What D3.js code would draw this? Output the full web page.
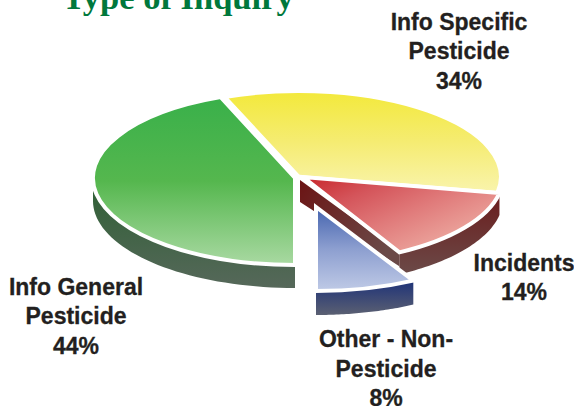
<!DOCTYPE html>
<html><head><meta charset="utf-8"><style>html,body{margin:0;padding:0;background:#fff;overflow:hidden}svg{display:block}</style>
<script src="https://cdn.jsdelivr.net/npm/d3@7"></script></head><body><script>
const categories = ["Info General","Info Specific","Incidents","Other - Non-Pesticide"];
const values = [44,34,14,8];
const titleText = "Type of Inquiry";
const labelLines = [["Info General","Pesticide","44%"],["Info Specific","Pesticide","34%"],["Incidents","14%"],["Other - Non-","Pesticide","8%"]];

const W=574,H=406;
// layout per slice
const apex=[[295,178],[299,177],[303,177],[316,207]];
const radX=[202,202,200,202], radY=[87,86,86,84];
const depth=[23,0,22,24];
const labelPos=[[76,294.5],[459,29.5],[524,270.5],[386,347]];
const topCols=[["#39b04a","#55b74e","#a9d9a2"],["#f3e93a","#f5ec72","#f9f4ad"],null,["#4463ae","#8d9fd0","#bfcae6"]];
const wallCols=[["#2d5f33","#56685a"],null,["#6b1c1c","#6b4a48"],["#1e3278","#5b6072"]];

const svg=d3.select("body").append("svg").attr("width",W).attr("height",H);
const defs=svg.append("defs");
const pie=d3.pie().sort(null).startAngle(Math.PI).endAngle(3*Math.PI);
const arcs=pie(values);

function grad(id,cols,x2,y2){
  const g=defs.append("linearGradient").attr("id",id).attr("x1",0).attr("y1",0).attr("x2",x2).attr("y2",y2);
  cols.forEach((c,i)=>g.append("stop").attr("offset",i/(cols.length-1)).attr("stop-color",c));
}
topCols.forEach((c,i)=>{ if(c) grad("top"+i,c,0,1); });
grad("top2",["#c8262a","#d4545a","#e07a7a","#ea9f98"],0.8,0.7);
wallCols.forEach((c,i)=>{ if(c) grad("wall"+i,c,0,1); });
grad("cut2",["#6b1414","#6b4a48"],1,0.6);

const TAU=2*Math.PI;
const pt=(i,a,d=0)=>[apex[i][0]+radX[i]*Math.sin(a),apex[i][1]-radY[i]*Math.cos(a)+d];
const line=d3.line();
function wallPath(i){
  // bring the angle span into the 0..2pi turn, then keep the front-facing half
  const shift=arcs[i].startAngle>=TAU?TAU:0;
  const a0=Math.max(arcs[i].startAngle-shift,Math.PI/2), a1=Math.min(arcs[i].endAngle-shift,1.5*Math.PI);
  const as=d3.range(0,41).map(k=>a0+(a1-a0)*k/40);
  const top=as.map(a=>pt(i,a)), bottom=as.map(a=>pt(i,a,depth[i])).reverse();
  return line(top.concat(bottom))+"Z";
}
const arc=d3.arc().innerRadius(0).outerRadius(1);
const order=[0,1,2,3];
// walls
order.forEach(i=>{
  if(!depth[i]) return;
  if(i===2){
    const t=pt(2,arcs[2].endAngle);
    svg.append("path").attr("d",line([[apex[2][0]-3,apex[2][1]+3],t,[t[0],t[1]+depth[2]-8],[apex[2][0]-3,apex[2][1]+depth[2]+3]])+"Z")
      .attr("fill","url(#cut2)");
  }
  svg.append("path").attr("d",wallPath(i)).attr("fill",`url(#wall${i})`);
});
// tops
order.forEach(i=>{
  svg.append("path").datum(arcs[i]).attr("d",arc)
    .attr("transform",`translate(${apex[i][0]},${apex[i][1]}) scale(${radX[i]},${radY[i]})`)
    .attr("fill",`url(#top${i})`).attr("stroke","#fff").attr("stroke-width",4)
    .attr("vector-effect","non-scaling-stroke").attr("stroke-linejoin","miter");
});
// title
svg.append("text").attr("x",178).attr("y",9).attr("text-anchor","middle")
  .attr("font-family","'Liberation Serif',serif").attr("font-weight","bold").attr("font-size",34.5)
  .attr("fill","#00783c").text(titleText);
// labels
labelLines.forEach((ls,i)=>{
  ls.forEach((s,k)=>svg.append("text").attr("x",labelPos[i][0]).attr("y",labelPos[i][1]+k*29.5)
    .attr("text-anchor","middle").attr("font-family","'Liberation Sans',Arial,sans-serif")
    .attr("font-weight","bold").attr("font-size",23).attr("fill","#231f20")
    .attr("stroke","#231f20").attr("stroke-width",0.3).text(s));
});
</script></body></html>
